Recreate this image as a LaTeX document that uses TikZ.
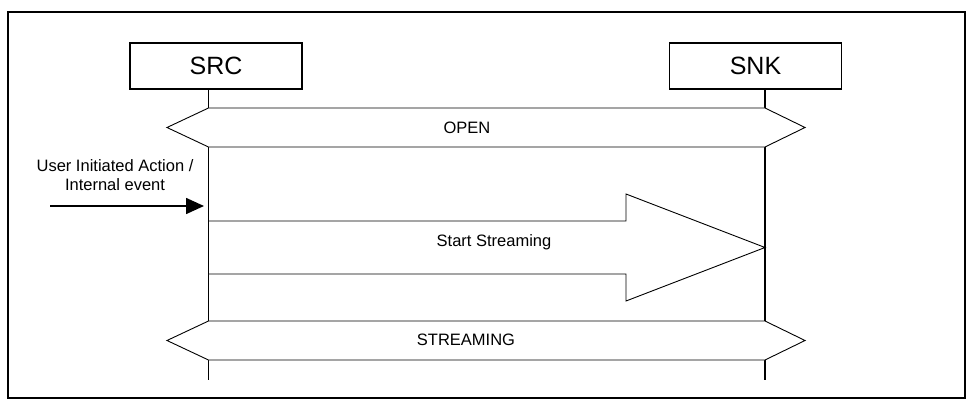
\documentclass[tikz,border=0pt]{standalone}
\usepackage{fontspec}
\setmainfont{Liberation Sans}
\usetikzlibrary{arrows.meta}

\begin{document}
\begin{tikzpicture}[x=1pt,y=-1pt,
  entity/.style={draw,line width=1.6pt,minimum width=172pt,minimum height=46pt,font=\fontsize{25}{30}\selectfont},
  life/.style={line width=1.6pt},
  msg/.style={draw,line width=0.9pt,fill=white},
  lbl/.style={font=\fontsize{16.5}{19}\selectfont}]
\useasboundingbox (0,0) rectangle (976,409);
\draw[line width=1.8pt] (8,12) rectangle (965,398);

% entities and lifelines
\node[entity] (src) at (216,66) {SRC};
\node[entity] (snk) at (755.5,66) {SNK};
\coordinate (srcTop) at (208.5,89);
\coordinate (srcEnd) at (208.5,380);
\coordinate (snkTop) at (765,89);
\coordinate (snkEnd) at (765,380);
\draw[life] (srcTop) -- (srcEnd);
\draw[life] (snkTop) -- (snkEnd);

% OPEN
\draw[msg] (167,127.5) -- (208.5,108) -- (765,108) -- (805,127.5) -- (765,147) -- (208.5,147) -- cycle;
\node[lbl] (open) at (467,127.5) {OPEN};

% trigger
\node[lbl,align=center] (trig) at (115,175) {User Initiated Action /\\Internal event};
\coordinate (ext) at (50,206);
\coordinate (hit) at (204,206);
\draw[life,-{Triangle[length=18pt,width=16pt]}] (ext) -- (hit);

% Start Streaming
\draw[msg] (208.5,221) -- (626,221) -- (626,194) -- (765,247.5) -- (626,301) -- (626,274) -- (208.5,274) -- cycle;
\node[lbl] (start) at (494,242) {Start Streaming};

% STREAMING
\draw[msg] (167,340.5) -- (208.5,321) -- (765,321) -- (805,340.5) -- (765,360) -- (208.5,360) -- cycle;
\node[lbl] (strm) at (466,339.5) {STREAMING};
\end{tikzpicture}
\end{document}
